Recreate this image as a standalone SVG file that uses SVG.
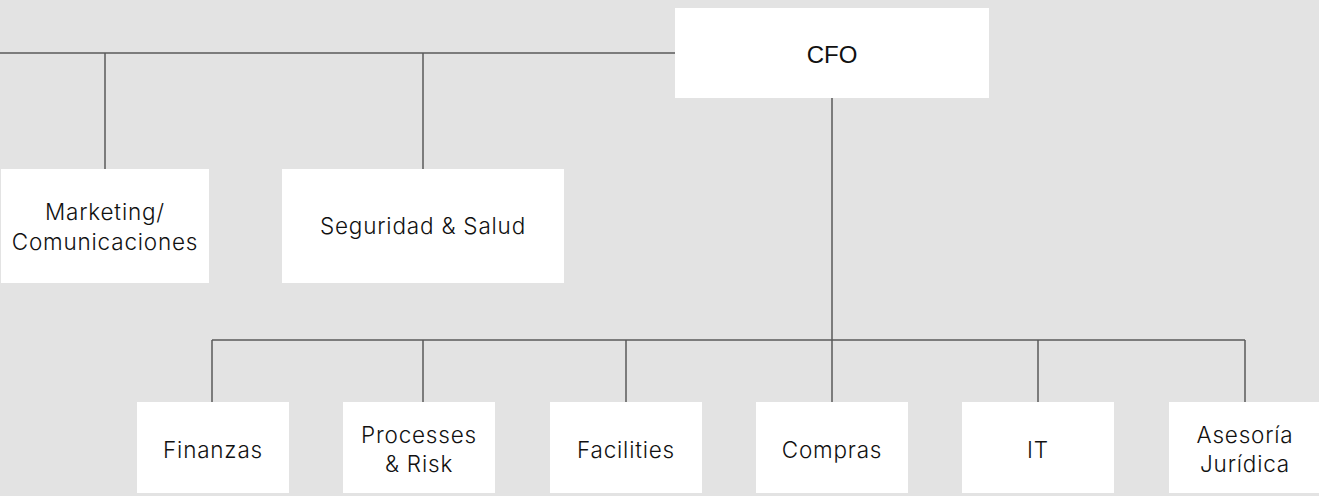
<svg xmlns="http://www.w3.org/2000/svg" width="1319" height="496" viewBox="0 0 1319 496">
<style>
.bg{fill:#e3e3e3}
.box{fill:#ffffff}
.lbl{font-family:Inter,"Liberation Sans",sans-serif;font-size:22.5px;font-weight:350;letter-spacing:0.8px;fill:#111111;text-anchor:middle}
.cfo{font-family:"Liberation Sans",Arial,sans-serif;font-size:24px;fill:#111111;text-anchor:middle}
.con{stroke:#5a5a5a;stroke-width:1.5;fill:none}
</style>
<rect class="bg" x="0" y="0" width="1319" height="496"/>
<g id="connectors">
<path class="con" d="M0 53 H675"/>
<path class="con" d="M105 53 V169"/>
<path class="con" d="M423 53 V169"/>
<path class="con" d="M832 98 V402"/>
<path class="con" d="M212 340 H1245"/>
<path class="con" d="M212 340 V402"/>
<path class="con" d="M423 340 V402"/>
<path class="con" d="M626 340 V402"/>
<path class="con" d="M1038 340 V402"/>
<path class="con" d="M1245 340 V402"/>
</g>
<g id="cfo">
<rect class="box" x="675" y="8" width="314" height="90"/>
<text class="cfo" x="832" y="63">CFO</text>
</g>
<g id="marketing">
<rect class="box" x="1" y="169" width="208" height="114"/>
<text class="lbl" x="105" y="220">Marketing/</text>
<text class="lbl" x="105" y="250">Comunicaciones</text>
</g>
<g id="seguridad">
<rect class="box" x="282" y="169" width="282" height="114"/>
<text class="lbl" x="423" y="234">Seguridad &amp; Salud</text>
</g>
<g id="finanzas">
<rect class="box" x="137" y="402" width="152" height="91"/>
<text class="lbl" x="213" y="458">Finanzas</text>
</g>
<g id="processes">
<rect class="box" x="343" y="402" width="152" height="91"/>
<text class="lbl" x="419" y="443">Processes</text>
<text class="lbl" x="419" y="472">&amp; Risk</text>
</g>
<g id="facilities">
<rect class="box" x="550" y="402" width="152" height="91"/>
<text class="lbl" x="626" y="458">Facilities</text>
</g>
<g id="compras">
<rect class="box" x="756" y="402" width="152" height="91"/>
<text class="lbl" x="832" y="458">Compras</text>
</g>
<g id="it">
<rect class="box" x="962" y="402" width="152" height="91"/>
<text class="lbl" x="1038" y="458">IT</text>
</g>
<g id="asesoria">
<rect class="box" x="1169" y="402" width="152" height="91"/>
<text class="lbl" x="1245" y="443">Asesoría</text>
<text class="lbl" x="1245" y="472">Jurídica</text>
</g>
</svg>
